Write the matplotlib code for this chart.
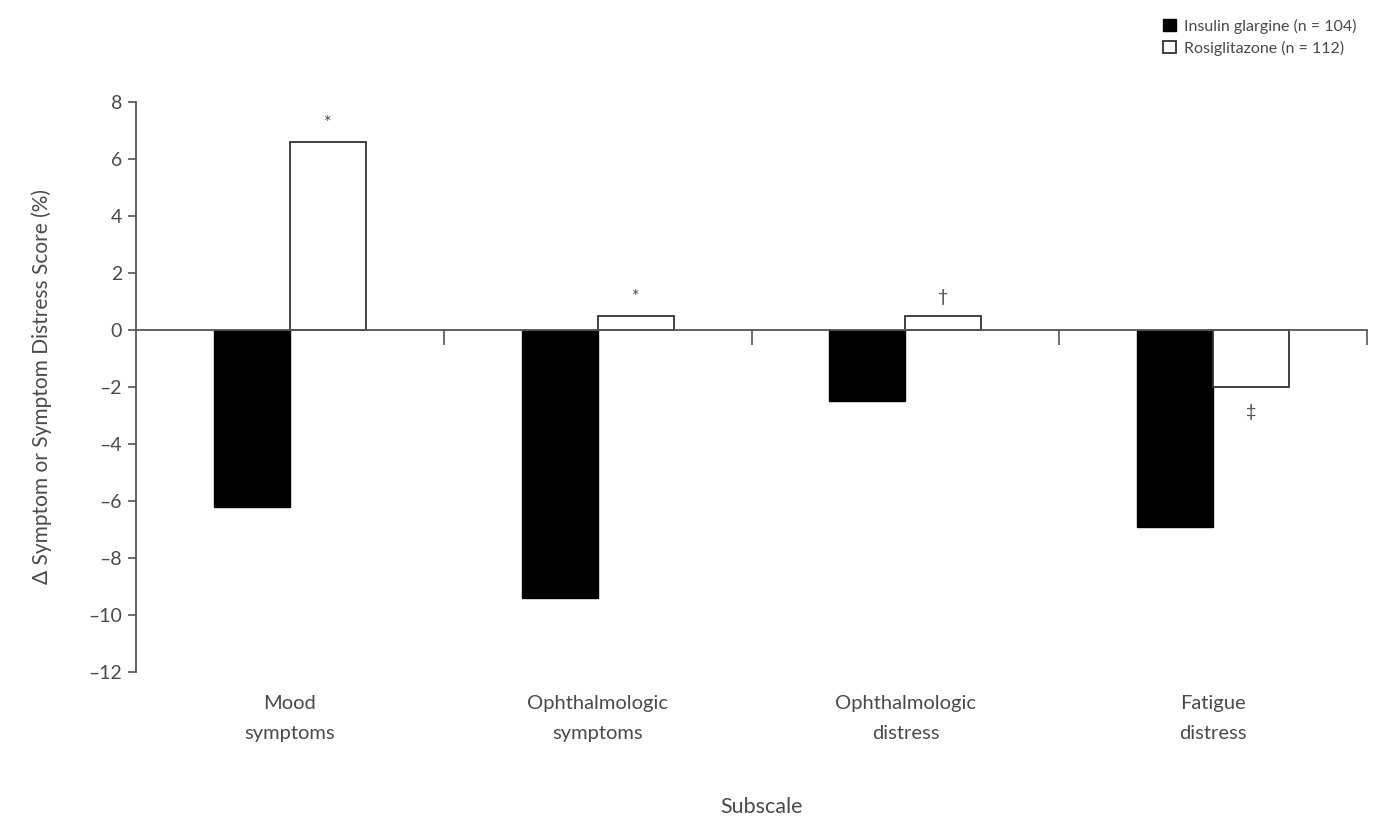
import matplotlib.pyplot as plt
import numpy as np

categories = ["Mood\nsymptoms", "Ophthalmologic\nsymptoms", "Ophthalmologic\ndistress", "Fatigue\ndistress"]
glargine = [-6.2, -9.4, -2.5, -6.9]
rosiglitazone = [6.6, 0.5, 0.5, -2.0]
marks = ["*", "*", "\u2020", "\u2021"]
labels = ["Insulin glargine (n = 104)", "Rosiglitazone (n = 112)"]

plt.rcParams["font.family"] = ["Lato", "DejaVu Sans"]
grey = "#4a4a4a"

fig = plt.figure(figsize=(13.75, 8.19), dpi=100)
ax = fig.add_axes([0.0989, 0.1795, 0.8953, 0.696])

x = np.arange(len(categories))
w = 0.247
b1 = ax.bar(x - w / 2, glargine, w, color="black", edgecolor="black", lw=1, label=labels[0])
b2 = ax.bar(x + w / 2, rosiglitazone, w, color="white", edgecolor="#333333", lw=1.3, label=labels[1])

for xi, v, m in zip(x, rosiglitazone, marks):
    if v >= 0:
        ax.annotate(m, (xi + w / 2, v), xytext=(0, 8), textcoords="offset points",
                    ha="center", va="bottom", fontsize=13, color=grey)
    else:
        ax.annotate(m, (xi + w / 2, v), xytext=(0, -12), textcoords="offset points",
                    ha="center", va="top", fontsize=13, color=grey)

ax.set_xlim(-0.5, 3.5)
ax.set_ylim(-12, 8)
ax.set_yticks(np.arange(-12, 9, 2))
ax.set_yticklabels([str(t).replace("-", "\u2013") for t in range(-12, 9, 2)])
ax.spines["top"].set_visible(False)
ax.spines["right"].set_visible(False)
ax.spines["bottom"].set_position(("data", 0))
for s in ("left", "bottom"):
    ax.spines[s].set_color("#555555")
    ax.spines[s].set_linewidth(1.3)
ax.set_xticks(np.arange(0.5, 4, 1))
ax.set_xticklabels([])
ax.tick_params(axis="x", direction="out", length=11, width=1.2, color="#555555")
ax.tick_params(axis="y", direction="out", length=6, width=1.2, color="#555555",
               labelsize=14, labelcolor=grey, pad=4)

for xi, c in zip(x, categories):
    ax.text(xi, -12.8, c, ha="center", va="top", fontsize=14.5, color=grey,
            linespacing=1.95)

ax.set_ylabel("\u0394 Symptom or Symptom Distress Score (%)", fontsize=15, color=grey, labelpad=26)
fig.text(0.5535, 0.002, "Subscale", ha="center", va="bottom", fontsize=15.5, color=grey)

fig.legend(handles=[b1, b2], loc="upper right", bbox_to_anchor=(0.997, 0.995), frameon=False,
           fontsize=11.5, labelcolor=grey, handlelength=0.8, handleheight=0.8,
           handletextpad=0.5, labelspacing=0.45)

plt.savefig("out.png", dpi=100)
